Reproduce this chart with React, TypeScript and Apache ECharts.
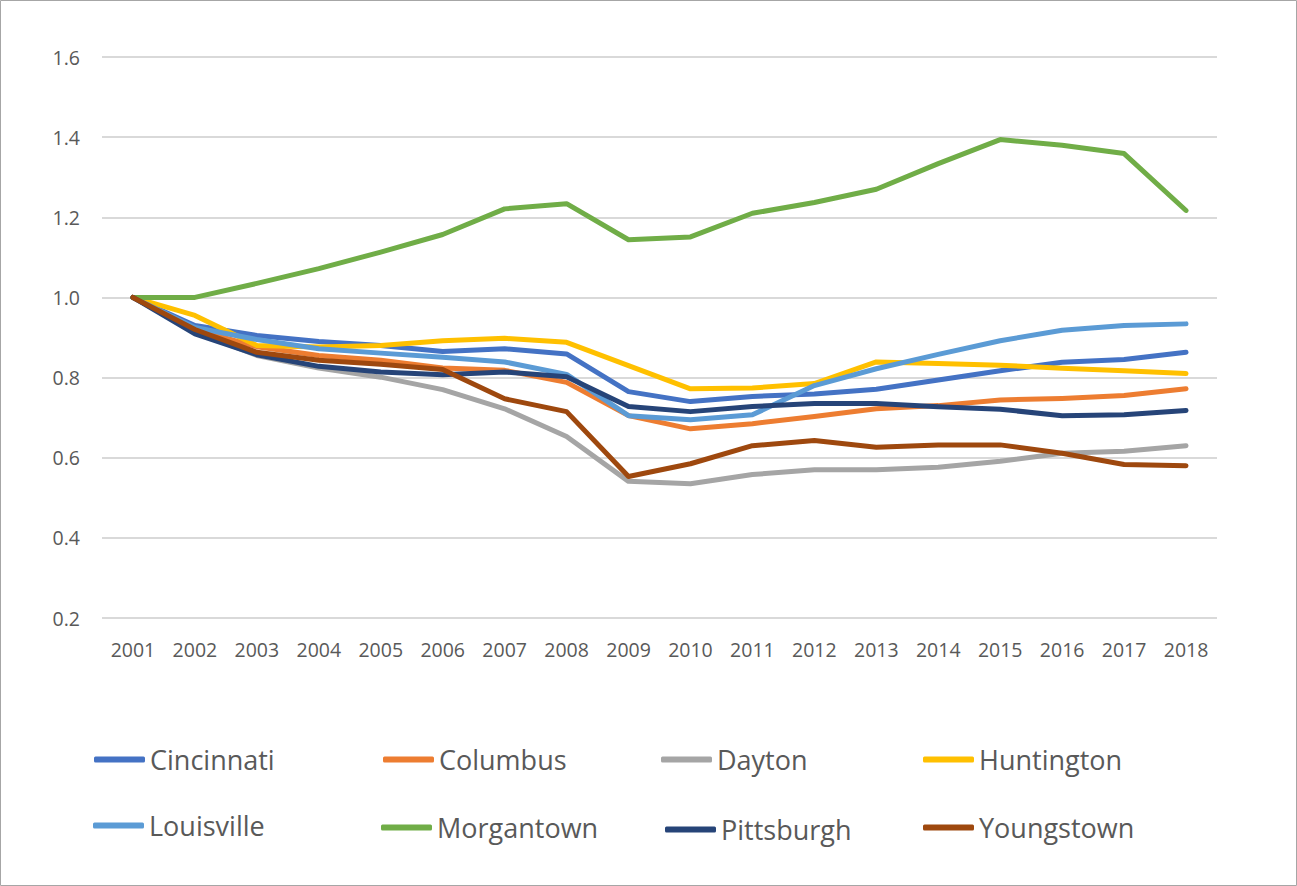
import React, { useEffect, useRef } from "react";
import * as echarts from "echarts";

const years = ["2001","2002","2003","2004","2005","2006","2007","2008","2009","2010","2011","2012","2013","2014","2015","2016","2017","2018"];
const cincinnati = [1.0, 0.93, 0.905, 0.89, 0.88, 0.865, 0.872, 0.859, 0.765, 0.74, 0.753, 0.759, 0.771, 0.794, 0.817, 0.838, 0.845, 0.863];
const columbus = [1.0, 0.92, 0.877, 0.855, 0.843, 0.824, 0.818, 0.788, 0.705, 0.672, 0.685, 0.703, 0.722, 0.73, 0.744, 0.748, 0.755, 0.772];
const dayton = [1.0, 0.915, 0.855, 0.824, 0.801, 0.77, 0.722, 0.653, 0.541, 0.535, 0.558, 0.57, 0.57, 0.576, 0.591, 0.611, 0.616, 0.63];
const huntington = [1.0, 0.955, 0.88, 0.876, 0.88, 0.892, 0.898, 0.888, 0.83, 0.772, 0.774, 0.785, 0.839, 0.835, 0.831, 0.823, 0.817, 0.81];
const louisville = [1.0, 0.925, 0.895, 0.872, 0.861, 0.851, 0.839, 0.808, 0.705, 0.695, 0.707, 0.78, 0.822, 0.858, 0.892, 0.918, 0.93, 0.934];
const morgantown = [1.0, 1.0, 1.035, 1.072, 1.113, 1.157, 1.221, 1.234, 1.144, 1.151, 1.21, 1.237, 1.27, 1.334, 1.394, 1.38, 1.359, 1.217];
const pittsburgh = [1.0, 0.909, 0.857, 0.828, 0.814, 0.807, 0.814, 0.802, 0.728, 0.715, 0.728, 0.735, 0.735, 0.727, 0.721, 0.705, 0.707, 0.718];
const youngstown = [1.0, 0.92, 0.863, 0.843, 0.833, 0.82, 0.747, 0.715, 0.553, 0.585, 0.63, 0.643, 0.626, 0.632, 0.632, 0.611, 0.583, 0.58];

const seriesNames = ["Cincinnati","Columbus","Dayton","Huntington","Louisville","Morgantown","Pittsburgh","Youngstown"];
const seriesData = [cincinnati, columbus, dayton, huntington, louisville, morgantown, pittsburgh, youngstown];
const colors = ["#4472C4","#ED7D31","#A5A5A5","#FFC000","#5B9BD5","#70AD47","#264478","#9E480E"];
const legendLeft = [89, 378, 656, 918, 88, 376, 660, 918];
const legendTop = [741, 741, 741, 741, 807, 809, 811, 809];

const FONT = "'Open Sans', 'Noto Sans', sans-serif";

export default function App() {
  const ref = useRef<HTMLDivElement>(null);
  useEffect(() => {
    if (!ref.current) return;
    const chart = echarts.init(ref.current, null, { renderer: "svg" });
    chart.setOption({
      animation: false,
      backgroundColor: "#ffffff",
      textStyle: { fontFamily: FONT },
      grid: { left: 102, right: 80, top: 57, bottom: 268, containLabel: false, outerBoundsMode: "none" },
      xAxis: {
        type: "category",
        data: years,
        boundaryGap: true,
        axisLine: { show: false },
        axisTick: { show: false },
        axisLabel: { color: "#595959", fontSize: 19.5, fontFamily: FONT, margin: 21, interval: 0 },
      },
      yAxis: {
        type: "value",
        min: 0.2,
        max: 1.6,
        interval: 0.2,
        axisLine: { show: false },
        axisTick: { show: false },
        axisLabel: { color: "#595959", fontSize: 19.5, fontFamily: FONT, margin: 22, formatter: (v: number) => v.toFixed(1) },
        splitLine: { lineStyle: { color: "#d9d9d9", width: 2 } },
      },
      legend: seriesNames.map((n, i) => ({
        data: [n],
        left: legendLeft[i],
        top: legendTop[i],
        icon: "roundRect",
        itemWidth: 51,
        itemHeight: 6,
        textStyle: { color: "#595959", fontSize: 27, fontFamily: FONT },
        selectedMode: false,
      })),
      graphic: [
        {
          type: "rect",
          shape: { x: 0.5, y: 0.5, width: 1296, height: 885 },
          style: { fill: "none", stroke: "#a6a6a6", lineWidth: 1 },
          silent: true,
        },
      ],
      series: seriesNames.map((n, i) => ({
        name: n,
        type: "line",
        data: seriesData[i],
        color: colors[i],
        symbol: "none",
        showSymbol: false,
        lineStyle: { color: colors[i], width: 5, cap: "round", join: "round" },
        itemStyle: { color: colors[i] },
      })),
    });
    return () => chart.dispose();
  }, []);
  return <div ref={ref} style={{ position: "fixed", left: 0, top: 0, width: 1297, height: 886 }} />;
}
